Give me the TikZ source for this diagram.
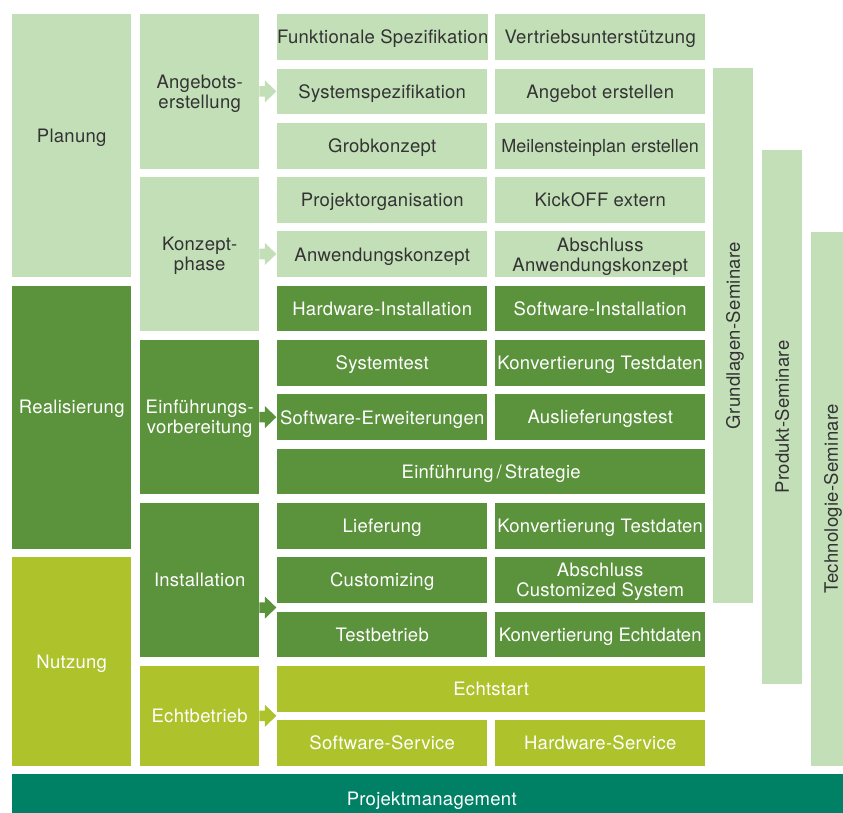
\documentclass[tikz,border=0pt]{standalone}
\usepackage{fontspec}
\setmainfont{TeX Gyre Heros}
\newfontfamily\cellfont[LetterSpace=1.5]{TeX Gyre Heros}
\usepackage{tikz}
\usetikzlibrary{positioning}
\definecolor{lgreen}{HTML}{C3DFB7}
\definecolor{dgreen}{HTML}{5B923C}
\definecolor{limegreen}{HTML}{ADC22B}
\definecolor{pmteal}{HTML}{008165}
\definecolor{dtext}{HTML}{333333}

\tikzset{
  cellfont/.style={font=\cellfont\fontsize{18.5}{20}\selectfont},
  box/.style={anchor=north west, inner sep=0pt, align=center, text depth=0pt, cellfont},
  task/.style={box, minimum width=210pt, minimum height=45.7pt},
  widetask/.style={box, minimum width=428pt, minimum height=45.7pt},
  phase/.style={box, minimum width=119pt},
  lightcell/.style={fill=lgreen, text=dtext},
  darkcell/.style={fill=dgreen, text=white},
  limecell/.style={fill=limegreen, text=white},
  seminar/.style={fill=lgreen, text=dtext, rotate=90, inner sep=0pt, text depth=0pt,
    minimum width=534.7pt, minimum height=40pt, cellfont},
  barrow/.pic={\fill (0,-5.3) -- (5.5,-5.3) -- (5.5,-11) -- (17,0) -- (5.5,11) -- (5.5,5.3) -- (0,5.3) -- cycle;}
}

\begin{document}
\begin{tikzpicture}[x=1pt, y=-1pt]
    \useasboundingbox (0,0) rectangle (843,812);
    \clip (0,0) rectangle (843,812);

    % life cycle stages
    \node[phase, lightcell, minimum height=262.9pt] (plan) at (12,14) {};
    \node[phase, darkcell, minimum height=262.9pt] (real) at (12,285.5) {};
    \node[phase, limecell, minimum height=208.6pt] (nutz) at (12,557) {};
    \node[text=dtext, cellfont, text depth=0pt] (plantxt) at ([yshift=10pt]plan.center) {Planung};
    \node[text=white, cellfont, text depth=0pt] (realtxt) at ([yshift=10pt]real.center) {Realisierung};
    \node[text=white, cellfont, text depth=0pt] (nutztxt) at (nutz.center) {Nutzung};

    % phases
    \node[phase, lightcell, minimum height=154.3pt] (angebot) at (140,14) {Angebots-\\erstellung};
    \node[phase, lightcell, minimum height=153.7pt] (konzept) at (140,176.9) {Konzept-\\phase};
    \node[phase, darkcell, minimum height=154.3pt] (einf) at (140,339.8) {Einführungs-\\vorbereitung};
    \node[phase, darkcell, minimum height=154.3pt] (inst) at (140,502.7) {Installation};
    \node[phase, limecell, minimum height=100pt] (echt) at (140,665.6) {Echtbetrieb};

    % tasks
    \node[task, lightcell] (funkspez) at (277,14) {Funktionale Spezifikation};
    \node[task, lightcell] (vertrieb) at (495,14) {Vertriebsunterstützung};
    \node[task, lightcell] (sysspez) at (277,68.3) {Systemspezifikation};
    \node[task, lightcell] (angerst) at (495,68.3) {Angebot erstellen};
    \node[task, lightcell] (grobk) at (277,122.6) {Grobkonzept};
    \node[task, lightcell] (meilen) at (495,122.6) {\rmfamily\fontsize{18}{20}\selectfont Meilensteinplan erstellen};
    \node[task, lightcell] (projorg) at (277,176.9) {Projektorganisation};
    \node[task, lightcell] (kickoff) at (495,176.9) {KickOFF extern};
    \node[task, lightcell] (anwk) at (277,231.2) {Anwendungskonzept};
    \node[task, lightcell] (abanwk) at (495,231.2) {Abschluss\\Anwendungskonzept};
    \node[task, darkcell] (hwinst) at (277,285.5) {Hardware-Installation};
    \node[task, darkcell] (swinst) at (495,285.5) {Software-Installation};
    \node[task, darkcell] (systest) at (277,339.8) {Systemtest};
    \node[task, darkcell] (konvtest) at (495,339.8) {Konvertierung Testdaten};
    \node[task, darkcell] (swerw) at (277,394.1) {Software-Erweiterungen};
    \node[task, darkcell] (auslief) at (495,394.1) {Auslieferungstest};
    \node[widetask, darkcell] (strat) at (277,448.4) {Einführung\thinspace/\thinspace Strategie};
    \node[task, darkcell] (liefer) at (277,502.7) {Lieferung};
    \node[task, darkcell] (konvtestb) at (495,502.7) {Konvertierung Testdaten};
    \node[task, darkcell] (custom) at (277,557) {Customizing};
    \node[task, darkcell] (abcust) at (495,557) {Abschluss\\Customized System};
    \node[task, darkcell] (testbtr) at (277,611.3) {Testbetrieb};
    \node[task, darkcell] (konvecht) at (495,611.3) {\rmfamily Konvertierung Echtdaten};
    \node[widetask, limecell] (echtstart) at (277,665.6) {Echtstart};
    \node[task, limecell] (swserv) at (277,719.9) {Software-Service};
    \node[task, limecell] (hwserv) at (495,719.9) {Hardware-Service};

    % arrows from phase to tasks
    \pic[fill=lgreen] at (angebot.east) {barrow};
    \pic[fill=lgreen] at (konzept.east) {barrow};
    \pic[fill=dgreen] at (einf.east) {barrow};
    \pic[fill=dgreen] at ([yshift=-27.5pt]inst.east) {barrow};
    \pic[fill=limegreen] at (echt.east) {barrow};

    % seminars
    \node[seminar] (grundsem) at (733,335.6) {Grundlagen-Seminare};
    \node[seminar] (prodsem) at (782,417) {Produkt-Seminare};
    \node[seminar] (techsem) at (831,499) {Technologie-Seminare};

    % project management
    \node[box, fill=pmteal, text=white, minimum width=839pt, minimum height=49pt] (pm) at (12,774) {Projektmanagement};
\end{tikzpicture}
\end{document}
